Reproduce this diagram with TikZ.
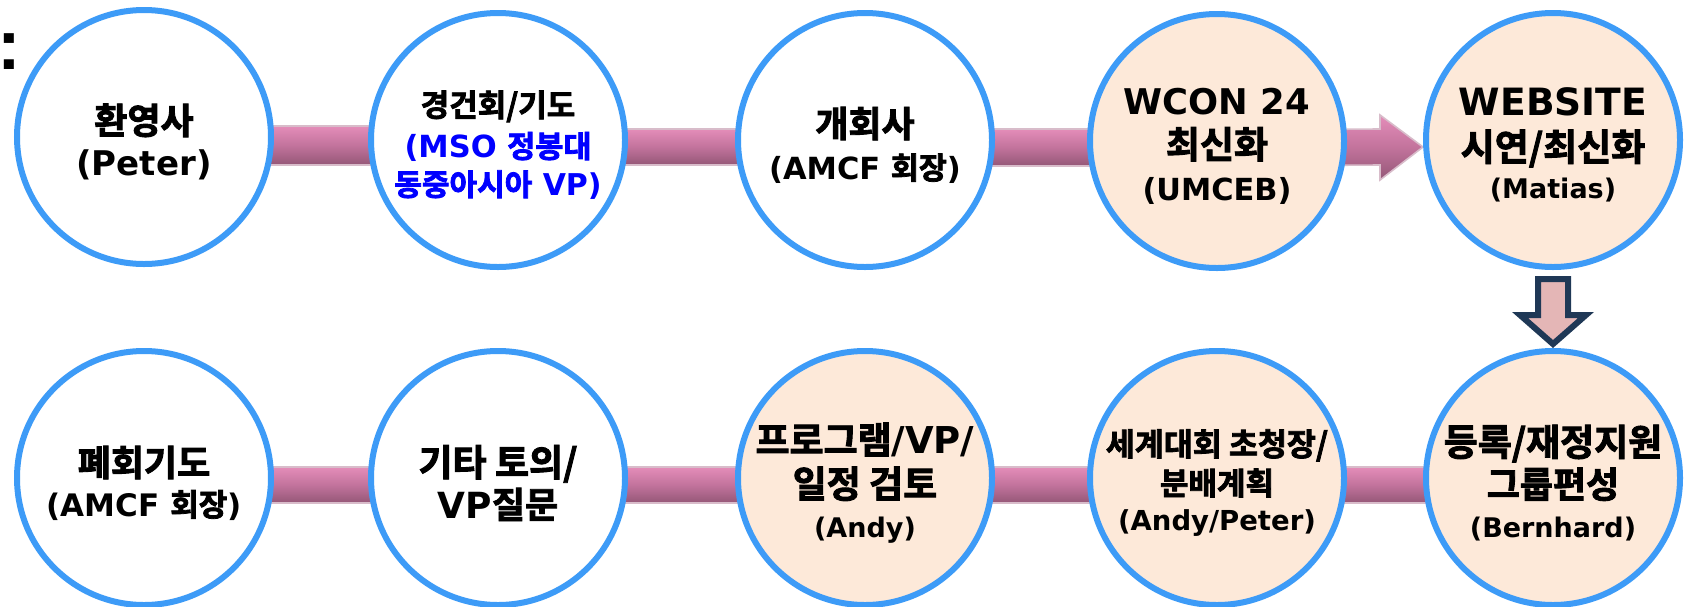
\documentclass[tikz,border=0pt]{standalone}
\usepackage{fontspec}
\setmainfont{DejaVu Sans}[UprightFont=* Bold]
\newfontfamily\kofont{Noto Sans CJK KR Bold}[FakeBold=2.5]
\newfontfamily\colonfont{Liberation Sans}[UprightFont=* Bold]
\newcommand{\ko}[1]{{\kofont #1}}
\newcommand{\fs}[1]{\fontsize{#1}{21}\selectfont}
\usetikzlibrary{calc,backgrounds}

\begin{document}
\begin{tikzpicture}[x=0.5pt, y=-0.5pt,
    stage/.style={circle, draw=ringblue, line width=3pt, minimum size=127pt, inner sep=0pt, fill=white},
    hot/.style={stage, fill=peach},
    lbl/.style={align=center, inner sep=0pt, yshift=-2.5pt, font=\fs{18}},
    bar/.style={top color=barTop, bottom color=barBot, middle color=barMid, draw=barEdge, line width=0.8pt},
    downarrow/.style={fill=arrowPink, draw=arrowNavy, line width=3pt, line join=miter}]
            % colours picked from the slide
            \definecolor{ringblue}{HTML}{3D9BF7}
            \definecolor{peach}{HTML}{FDE9D9}
            \definecolor{barTop}{HTML}{E48DB9}
            \definecolor{barMid}{HTML}{C2739C}
            \definecolor{barBot}{HTML}{945777}
            \definecolor{barEdge}{HTML}{D8BCCA}
            \definecolor{arrowPink}{HTML}{E4B6B6}
            \definecolor{arrowNavy}{HTML}{1F3856}
            \definecolor{mso}{HTML}{0000FF}
            \useasboundingbox (0,0) rectangle (1698,606);
            \node[inner sep=0pt, font=\colonfont\fontsize{35.5}{36}\selectfont] (colon) at (9.5,51.5) {:};
            % top row
            \node[stage] (c1) at (144,137) {};
            \node[stage] (c2) at (498,140) {};
            \node[stage] (c3) at (865,140) {};
            \node[hot] (c4) at (1217,141) {};
            \node[hot] (c5) at (1553,140) {};
            % bottom row
            \node[stage] (b1) at (144,478) {};
            \node[stage] (b2) at (498,478) {};
            \node[hot] (b3) at (865,478) {};
            \node[hot] (b4) at (1217,478) {};
            \node[hot] (b5) at (1553,478) {};
            % texts
            \node[lbl] (t1) at (c1) {\fs{18}\ko{환영사}\\\fs{17}(Peter)};
            \node[lbl] (t2) at (c2) {\fs{15.5}\ko{경건회/기도}\\[-0.5pt]\color{mso}\fs{15.25}(MSO \ko{정봉대}\\[-2pt]\color{mso}\fs{15}\ko{동중아시아} VP)};
            \node[lbl] (t3) at (c3) {\fs{18}\ko{개회사}\\\fs{15.25}(AMCF \ko{회장})};
            \node[lbl] (t4) at (c4) {\fs{17.7}WCON 24\\[1pt]\fs{18.5}\ko{최신화}\\\fs{15.2}(UMCEB)};
            \node[lbl] (t5) at (c5) {\fs{18.8}WEBSITE\\[1.5pt]\fs{18.5}\ko{시연/최신화}\\[-2pt]\fs{13.5}(Matias)};
            \node[lbl] (s1) at (b1) {\fs{18}\ko{폐회기도}\\[-1pt]\fs{15.5}(AMCF \ko{회장})};
            \node[lbl] (s2) at (b2) {\fs{18.5}\ko{기타 토의/}\\\fs{18}VP\ko{질문}};
            \node[lbl] (s3) at (b3) {\fs{18.5}\ko{프로그램}/VP/\\[1pt]\fs{18.5}\ko{일정 검토}\\[-1pt]\fs{13.5}(Andy)};
            \node[lbl] (s4) at (b4) {\fs{15.75}\ko{세계대회 초청장/}\\[-1.5pt]\fs{15.5}\ko{분배계획}\\[-3pt]\fs{13.75}(Andy/Peter)};
            \node[lbl] (s5) at (b5) {\fs{18.5}\ko{등록/재정지원}\\\fs{18}\ko{그룹편성}\\[-1pt]\fs{13.5}(Bernhard)};
            % connectors behind the circles
            \begin{scope}[on background layer]
                \foreach \a/\b in {c1/c2,c2/c3,c3/c4,b1/b2,b2/b3,b3/b4,b4/b5}
                    \shadedraw[bar] ($(\a)+(0,-11)$) rectangle ($(\b)+(0,25)$);
                \shadedraw[bar] ($(c4)+(0,-11)$) -- ($(c5.west)+(-43,-11)$) -- ($(c5.west)+(-43,-25)$)
                    -- ($(c5.west)+(0,7)$) -- ($(c5.west)+(-43,40)$) -- ($(c5.west)+(-43,25)$)
                    -- ($(c4)+(0,25)$) -- cycle;
            \end{scope}
            \draw[downarrow] ($(c5.south)+(-15,9)$) -- ($(c5.south)+(15,9)$) -- ($(b5.north)+(15,-33)$)
                -- ($(b5.north)+(33,-33)$) -- ($(b5.north)+(0,-4)$) -- ($(b5.north)+(-33,-33)$)
                -- ($(b5.north)+(-15,-33)$) -- cycle;
        \end{tikzpicture}
\end{document}
